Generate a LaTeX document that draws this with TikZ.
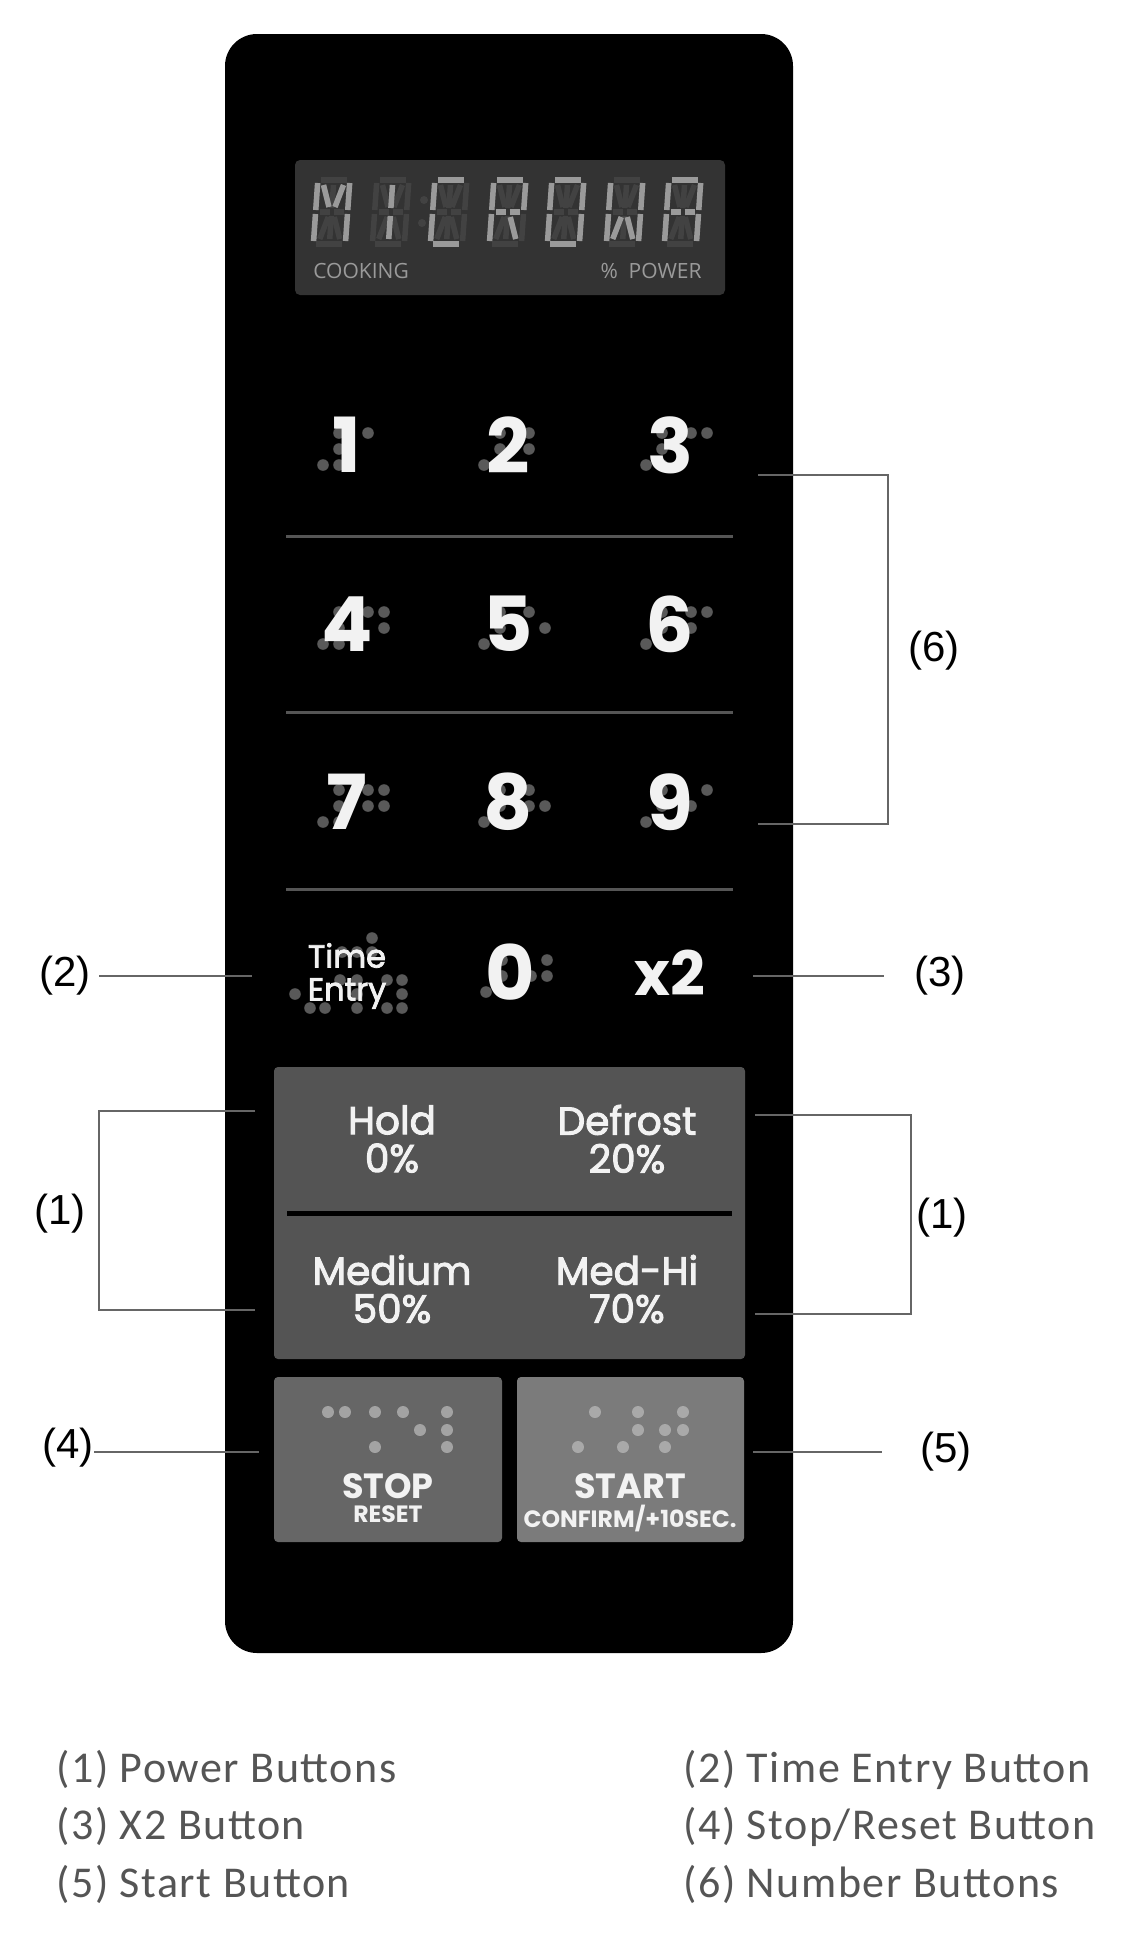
\documentclass[tikz,border=0pt]{standalone}
\usepackage{fontspec}
\setmainfont{Liberation Sans}
\newfontfamily\keyfont{Poppins}
\newfontfamily\keymed{Poppins}[FakeBold=2.5]
\newfontfamily\lcdfont{Open Sans}
\newfontfamily\legendfont{Carlito}[LetterSpace=3.5]
\usetikzlibrary{positioning}
\definecolor{lcdback}{HTML}{333333}
\definecolor{lcdlit}{HTML}{9A9A9A}
\definecolor{lcddim}{HTML}{424242}
\definecolor{keyline}{HTML}{555555}
\definecolor{dotgray}{HTML}{595959}
\definecolor{powergray}{HTML}{545454}
\definecolor{stopgray}{HTML}{666666}
\definecolor{startgray}{HTML}{7B7B7B}
\definecolor{keywhite}{HTML}{F2F2F2}
\definecolor{calloutgray}{HTML}{666666}
\definecolor{legendgray}{HTML}{555555}
\tikzset{
    lcdoff/.style={draw=lcddim, line width=2.75pt},
    lcdon/.style={draw=lcdlit, line width=2.75pt},
    seg a/.style={insert path={(5,2)--(31,2)}},
    seg d/.style={insert path={(5,66)--(31,66)}},
    seg f/.style={insert path={(2,5)--(2,32)}},
    seg e/.style={insert path={(2,36)--(2,63)}},
    seg b/.style={insert path={(34,5)--(34,32)}},
    seg c/.style={insert path={(34,36)--(34,63)}},
    seg g1/.style={insert path={(6,34)--(16,34)}},
    seg g2/.style={insert path={(20,34)--(30,34)}},
    seg i/.style={insert path={(18,7)--(18,30)}},
    seg m/.style={insert path={(18,38)--(18,61)}},
    seg h/.style={insert path={(8,7)--(15,29)}},
    seg k/.style={insert path={(28,7)--(21,29)}},
    seg l/.style={insert path={(15,39)--(8,61)}},
    seg n/.style={insert path={(21,39)--(28,61)}},
    lcdtext/.style={font=\lcdfont\fontsize{10.5}{12}\selectfont, text=lcdlit, inner sep=0pt},
    keynum/.style={font=\keyfont\bfseries\fontsize{38}{40}\selectfont, text=keywhite, inner sep=0pt},
    keydot/.style={fill=dotgray},
    keylabel/.style={font=\keymed\fontsize{16}{16.5}\selectfont, text=keywhite, align=center, inner sep=0pt},
    powertext/.style={font=\keymed\fontsize{19.5}{19}\selectfont, text=keywhite, align=center, inner sep=0pt},
    bigbtn/.style={font=\keyfont\bfseries\fontsize{17.5}{18}\selectfont, text=keywhite, inner sep=0pt},
    smallbtn/.style={font=\keyfont\bfseries\fontsize{11.8}{12}\selectfont, text=keywhite, inner sep=0pt, text depth=0pt},
    callout/.style={draw=calloutgray, line width=1pt},
    calllabel/.style={font=\fontsize{21}{24}\selectfont, text=black, inner sep=0pt},
    legendtext/.style={font=\legendfont\fontsize{22}{24}\selectfont, text=legendgray, inner sep=0pt}
}
\newcommand{\lcdchar}[2]{%
    \begin{scope}[shift={(#1,178)}, xslant=0.07]
        \foreach \s in {a,b,c,d,e,f,g1,g2,h,i,k,l,m,n} \draw[lcdoff, seg \s];
        \foreach \s in {#2} \draw[lcdon, seg \s];
    \end{scope}}

\begin{document}
\begin{tikzpicture}[x=0.5pt, y=-0.5pt]
    \useasboundingbox[fill=white] (0,0) rectangle (1125,1950);

    % control panel
    \fill[black, rounded corners=16pt] (225,34) rectangle (793,1653);

    % display
    \fill[lcdback, rounded corners=2.5pt] (295,160) rectangle (725,295);
    \lcdchar{316}{b,c,e,f,h,k}
    \lcdchar{375}{i,m}
    \lcdchar{433}{a,d,e,f}
    \lcdchar{492}{a,b,e,f,g1,g2,n}
    \lcdchar{550}{a,b,c,d,e,f}
    \lcdchar{609}{b,c,e,f,l,n}
    \lcdchar{667}{a,b,c,e,f,g1,g2}
    \fill[lcddim] (424,200) circle (2pt) (422,223) circle (2pt);
    \node[lcdtext, anchor=west] (cooking) at (313,271) {COOKING};
    \node[lcdtext, anchor=east] (power) at (702,271) {\%\ \ POWER};

    % number keys with braille
    \foreach \y in {536,712,889}
        \draw[keyline, line width=1.5pt] (286,\y) -- (733,\y);
    \foreach \n/\x/\y/\cells in {1/347/445/{1}, 2/508/445/{1,2}, 3/670/445/{1,4},
            4/347/624/{1,4,5}, 5/508/624/{1,5}, 6/670/624/{1,2,4},
            7/347/802/{1,2,4,5}, 8/508/802/{1,2,5}, 9/670/802/{2,4}, 0/510/972/{2,4,5}} {
        \foreach \c/\r in {0/2, 1/0, 1/1, 1/2}
            \fill[keydot] ({\x-24+16*\c},{\y-12+16*\r}) circle (2.9pt);
        \foreach \d in \cells {
            \pgfmathtruncatemacro\dc{\d>3}
            \pgfmathtruncatemacro\dr{mod(\d-1,3)}
            \fill[keydot] ({\x+21+16*\dc},{\y-12+16*\dr}) circle (2.9pt);
        }
        \node[keynum] (key\n) at (\x,\y) {\n};
    }
    \foreach \x/\y in {372/938, 342/952, 357/952, 372/952, 340/980, 357/980, 387/980, 402/980,
            295/994, 357/994, 402/994, 310/1008, 325/1008, 357/1008, 387/1008, 402/1008}
        \fill[keydot] (\x,\y) circle (2.9pt);
    \node[keylabel] (keytime) at (347,976) {Time\\Entry};
    \node[keynum, font=\keyfont\bfseries\fontsize{30.5}{32}\selectfont] (keyx2) at (670,973) {x2};

    % power level keys
    \fill[powergray, rounded corners=2pt] (274,1067) rectangle (745,1359);
    \draw[black, line width=2.5pt] (287,1213) -- (732,1213);
    \node[powertext] (hold) at (392,1139) {Hold\\0\%};
    \node[powertext] (defrost) at (627,1139) {Defrost\\20\%};
    \node[powertext] (medium) at (392,1289) {Medium\\50\%};
    \node[powertext] (medhi) at (627,1289) {Med-Hi\\70\%};

    % stop and start keys
    \fill[stopgray, rounded corners=2pt] (274,1377) rectangle (502,1542);
    \fill[startgray, rounded corners=2pt] (517,1377) rectangle (744,1542);
    \foreach \x/\y in {328/1412, 345/1412, 375/1412, 403/1412, 420/1430, 375/1447, 447/1412, 447/1430, 447/1447}
        \fill[stopgray!60!white] (\x,\y) circle (3pt);
    \foreach \x/\y in {595/1412, 638/1412, 683/1412, 638/1430, 665/1430, 683/1430, 578/1447, 623/1447, 665/1447}
        \fill[startgray!65!white] (\x,\y) circle (3pt);
    \node[bigbtn] (stop) at (388,1486) {STOP};
    \node[smallbtn] (reset) at (388,1514) {RESET};
    \node[bigbtn] (start) at (630,1486) {START};
    \node[smallbtn] (confirm) at (630,1516) {CONFIRM/+10SEC.};

    % callouts
    \node[calllabel] (lbl2) at (65,976) {(2)};
    \coordinate (t2) at (252,976);
    \draw[callout, shorten <=4pt] (lbl2.east) -- (t2);
    \node[calllabel] (lbl3) at (940,976) {(3)};
    \coordinate (t3) at (753,976);
    \draw[callout, shorten >=15pt] (t3) -- (lbl3.west);
    \node[calllabel] (lbl4) at (68,1448) {(4)};
    \coordinate (t4) at (259,1452);
    \draw[callout] (lbl4.east |- t4) -- (t4);
    \node[calllabel] (lbl5) at (946,1452) {(5)};
    \coordinate (t5) at (753,1452);
    \draw[callout, shorten >=19pt] (t5) -- (lbl5.west);

    \node[calllabel] (lbl6) at (934,651) {(6)};
    \coordinate (b6top) at (758,475);
    \coordinate (b6bot) at (758,824);
    \draw[callout] (b6top) -- ++(130,0) |- (b6bot);

    \node[calllabel] (lbl1l) at (60,1214) {(1)};
    \coordinate (b1ltop) at (255,1111);
    \coordinate (b1lbot) at (255,1310);
    \draw[callout] (b1ltop) -- ++(-156,0) |- (b1lbot);

    \node[calllabel] (lbl1r) at (942,1218) {(1)};
    \coordinate (b1rtop) at (755,1115);
    \coordinate (b1rbot) at (755,1314);
    \draw[callout] (b1rtop) -- ++(156,0) |- (b1rbot);

    % legend
    \node[legendtext, anchor=base west] (leg1) at (56,1782) {(1) Power Buttons};
    \node[legendtext, anchor=base west] (leg3) at (56,1839) {(3) X2 Button};
    \node[legendtext, anchor=base west] (leg5) at (56,1897) {(5) Start Button};
    \node[legendtext, anchor=base west] (leg2) at (683,1782) {(2) Time Entry Button};
    \node[legendtext, anchor=base west] (leg4) at (683,1839) {(4) Stop/Reset Button};
    \node[legendtext, anchor=base west] (leg6) at (683,1897) {(6) Number Buttons};
\end{tikzpicture}
\end{document}
